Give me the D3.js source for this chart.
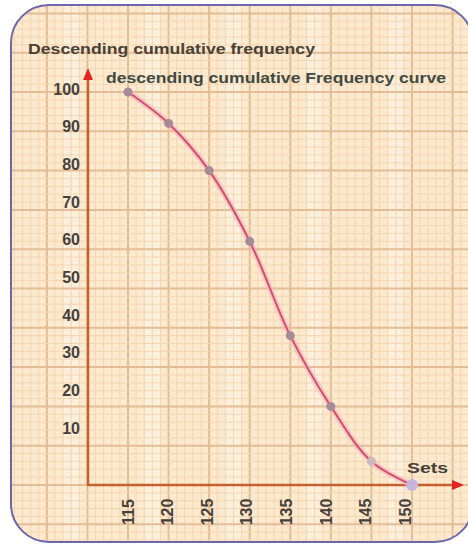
<!DOCTYPE html>
<html><head><meta charset="utf-8">
<script src="https://cdn.jsdelivr.net/npm/d3@7"></script>
<style>html,body{margin:0;padding:0;background:#fff;}svg{display:block;}</style>
</head><body>
<script>
// ---- data ----
const sets = [115, 120, 125, 130, 135, 140, 145, 150];
const cumFreq = [100, 92, 80, 62, 38, 20, 6, 0];
const yTickLabels = [10, 20, 30, 40, 50, 60, 70, 80, 90, 100];
const xTickLabels = [115, 120, 125, 130, 135, 140, 145, 150];
const yTitle = "Descending cumulative frequency";
const curveTitle = "descending cumulative Frequency curve";
const xTitle = "Sets";

const W = 468, H = 545;
const svg = d3.select("body").append("svg").attr("width", W).attr("height", H);
const font = "'Liberation Sans', Arial, sans-serif";

// scales (data + paper grid)
const x = d3.scaleLinear().domain([115, 150]).range([128, 412]);
const y = d3.scaleLinear().domain([0, 100]).range([485, 92]);
// label placement scales (labels in the reference are slightly offset from the grid)
const xLab = d3.scaleLinear().domain([115, 150]).range([128, 405]);
const yLab = d3.scaleLinear().domain([10, 100]).range([428, 89]);

// frame + clip
const defs = svg.append("defs");
defs.append("clipPath").attr("id", "frame").append("rect")
  .attr("x", 11).attr("y", 5).attr("width", 462).attr("height", 537).attr("rx", 38);

const paper = svg.append("g").attr("clip-path", "url(#frame)");
paper.append("rect").attr("x", 0).attr("y", 0).attr("width", W).attr("height", H).attr("fill", "#fde9cd");

// plaid light blocks
const xs = d3.range(Math.ceil(x.invert(0)), Math.floor(x.invert(W)) + 1);
const ys = d3.range(Math.ceil(y.invert(H) / 2) * 2, y.invert(0), 2);
paper.selectAll(".blk").data(xs.filter(v => ((v % 10) + 10) % 10 === 7))
  .join("rect").attr("x", d => x(d)).attr("y", 0).attr("width", x(2) - x(0)).attr("height", H)
  .attr("fill", "#fbf3e6").attr("opacity", 0.6);

// minor grid
paper.selectAll(".vmin").data(xs).join("line")
  .attr("x1", d => x(d)).attr("x2", d => x(d)).attr("y1", 0).attr("y2", H)
  .attr("stroke", d => (d % 5 === 0) ? "#e2bd96" : "#f4d6b4")
  .attr("stroke-width", d => (d % 5 === 0) ? 2 : 1);
paper.selectAll(".hmin").data(ys).join("line")
  .attr("y1", d => y(d)).attr("y2", d => y(d)).attr("x1", 0).attr("x2", W)
  .attr("stroke", d => (d % 10 === 0) ? "#e2bd96" : "#f4d6b4")
  .attr("stroke-width", d => (d % 10 === 0) ? 2 : 1);

// frame border
svg.append("rect").attr("x", 11).attr("y", 5).attr("width", 462).attr("height", 537).attr("rx", 38)
  .attr("fill", "none").attr("stroke", "#6e66aa").attr("stroke-width", 2);

// axes lines
const axisCol = "#c2602e", arrowCol = "#e2231f";
const ax = x.range()[0] - 40;
svg.append("line").attr("x1", ax).attr("x2", ax)
  .attr("y1", y(0)).attr("y2", 76).attr("stroke", axisCol).attr("stroke-width", 2.5);
svg.append("line").attr("x1", ax - 1).attr("x2", 456)
  .attr("y1", y(0)).attr("y2", y(0)).attr("stroke", axisCol).attr("stroke-width", 2.5);
svg.append("path").attr("d", `M${ax},68 L${ax - 5},80 L${ax + 5},80 Z`).attr("fill", arrowCol);
svg.append("path").attr("d", `M464,${y(0)} L452,${y(0) - 5} L452,${y(0) + 5} Z`).attr("fill", arrowCol);

// y tick labels
svg.append("g").selectAll("text").data(yTickLabels).join("text")
  .attr("x", 80).attr("y", d => yLab(d)).attr("dy", "0.36em")
  .attr("text-anchor", "end").attr("font-family", font).attr("font-weight", "bold")
  .attr("font-size", 16).attr("fill", "#45403a").text(d => d);

// x tick labels (rotated)
svg.append("g").selectAll("text").data(xTickLabels).join("text")
  .attr("transform", d => `translate(${xLab(d)},512) rotate(-90)`)
  .attr("dy", "0.36em").attr("text-anchor", "middle")
  .attr("font-family", font).attr("font-weight", "bold").attr("font-size", 16)
  .attr("fill", "#45403a").text(d => d);

// titles
svg.append("text").attr("x", 28).attr("y", 54).attr("font-family", font).attr("font-weight", "bold")
  .attr("font-size", 15).attr("fill", "#4a4036").attr("textLength", 287).attr("lengthAdjust", "spacingAndGlyphs").text(yTitle);
svg.append("text").attr("x", 106).attr("y", 83).attr("font-family", font).attr("font-weight", "bold")
  .attr("font-size", 15).attr("fill", "#3f4a42").attr("textLength", 340).attr("lengthAdjust", "spacingAndGlyphs").text(curveTitle);
svg.append("text").attr("x", 407).attr("y", 473).attr("font-family", font).attr("font-weight", "bold")
  .attr("font-size", 15).attr("fill", "#45403a").attr("textLength", 41).attr("lengthAdjust", "spacingAndGlyphs").text(xTitle);

// curve
const pts = sets.map((s, i) => [s, cumFreq[i]]);
const line = d3.line().x(d => x(d[0])).y(d => y(d[1])).curve(d3.curveCatmullRom.alpha(0.5));
svg.append("path").attr("d", line(pts)).attr("fill", "none").attr("stroke", "#f7b3bf").attr("stroke-width", 6).attr("opacity", 0.6);
svg.append("path").attr("d", line(pts)).attr("fill", "none").attr("stroke", "#d24f6b").attr("stroke-width", 2);

// points
svg.append("g").selectAll("circle").data(pts).join("circle")
  .attr("cx", d => x(d[0])).attr("cy", d => y(d[1]))
  .attr("r", (d, i) => i === pts.length - 1 ? 6 : 4.5)
  .attr("fill", (d, i) => i === pts.length - 1 ? "#c9b4dc" : (i === pts.length - 2 ? "#cdb9bf" : "#a58b97"));
</script>
</body></html>
